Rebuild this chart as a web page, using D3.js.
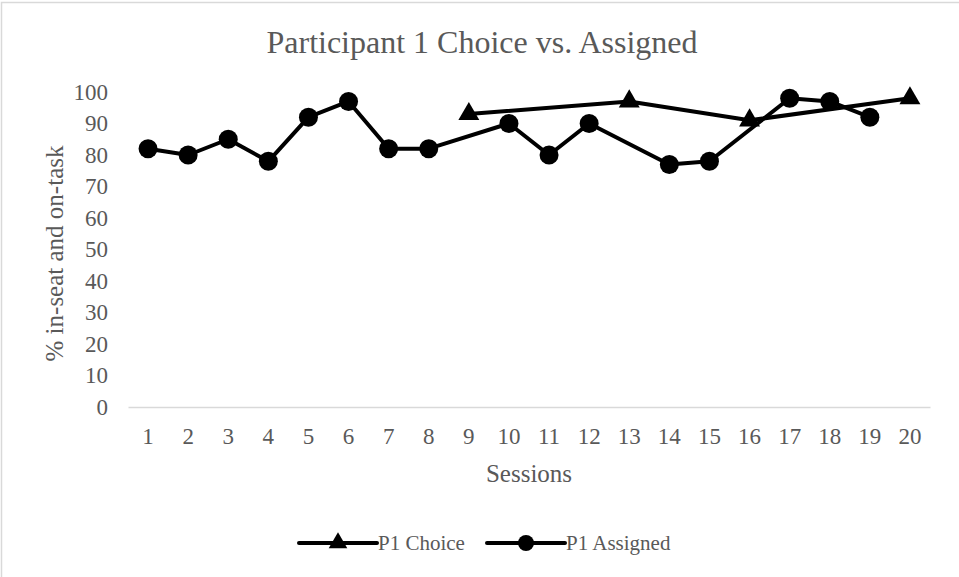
<!DOCTYPE html>
<html>
<head>
<meta charset="utf-8">
<script src="https://cdn.jsdelivr.net/npm/d3@7"></script>
<style>
  html, body { margin: 0; padding: 0; background: #fff; }
  svg { display: block; }
  text { font-family: "Liberation Serif", "Times New Roman", serif; fill: #595959; }
</style>
</head>
<body>
<svg id="chart" width="959" height="577"></svg>
<script>
// Sessions on the x axis
const sessions = d3.range(1, 21).map(String);
// Tick values on the y axis
const yTicks = [0, 10, 20, 30, 40, 50, 60, 70, 80, 90, 100];

// P1 Choice sessions and their % in-seat and on-task
const choiceSessions = ["9", "13", "16", "20"];
const choiceValues = [93, 97, 91, 98];

// P1 Assigned sessions and their values
const assignedSessions = ["1", "2", "3", "4", "5", "6", "7", "8", "10", "11", "12", "14", "15", "17", "18", "19"];
const assignedValues = [82, 80, 85, 78, 92, 97, 82, 82, 90, 80, 90, 77, 78, 98, 97, 92];

const W = 959, H = 577;
const margin = { left: 128, right: 29, top: 92, bottom: 170 };

const svg = d3.select("#chart");

// Outer chart frame
svg.append("rect")
  .attr("x", 1.5).attr("y", 2.5)
  .attr("width", W + 10).attr("height", H + 10)
  .attr("fill", "none").attr("stroke", "#d9d9d9").attr("stroke-width", 1.5);

const x = d3.scaleBand().domain(sessions).range([margin.left, W - margin.right]);
const y = d3.scaleLinear().domain([0, 100]).range([H - margin.bottom, margin.top]);

const xc = s => x(s) + x.bandwidth() / 2;

// Title
svg.append("text")
  .attr("x", 482).attr("y", 53)
  .attr("text-anchor", "middle")
  .style("font-size", "32px")
  .text("Participant 1 Choice vs. Assigned");

// X axis
const xAxis = svg.append("g")
  .attr("transform", `translate(0,${y(0)})`)
  .call(d3.axisBottom(x).tickSize(0).tickPadding(21));
xAxis.select(".domain").attr("stroke", "#d9d9d9").attr("stroke-width", 1.5);
xAxis.selectAll("text").style("font-size", "23px").attr("fill", "#595959");

// Y axis (labels only)
const yAxis = svg.append("g")
  .attr("transform", `translate(${margin.left},0)`)
  .call(d3.axisLeft(y).tickValues(yTicks).tickSize(0).tickPadding(20));
yAxis.select(".domain").remove();
yAxis.selectAll("text").style("font-size", "23px").attr("fill", "#595959");

// Axis titles
svg.append("text")
  .attr("x", xc("10") + x.bandwidth() / 2).attr("y", 482)
  .attr("text-anchor", "middle")
  .style("font-size", "25px")
  .text("Sessions");

svg.append("text")
  .attr("transform", `translate(63,${(y(0) + y(100)) / 2 + 4}) rotate(-90)`)
  .attr("text-anchor", "middle")
  .style("font-size", "25px")
  .text("% in-seat and on-task");

const line = d3.line().x(d => d[0]).y(d => d[1]);

const choicePts = choiceSessions.map((s, i) => [xc(s), y(choiceValues[i])]);
const assignedPts = assignedSessions.map((s, i) => [xc(s), y(assignedValues[i])]);

const tri = d3.symbol().type(d3.symbolTriangle).size(190);

// P1 Choice series
svg.append("path").attr("d", line(choicePts))
  .attr("fill", "none").attr("stroke", "#000").attr("stroke-width", 4).attr("stroke-linejoin", "round");
svg.selectAll(".tri").data(choicePts).join("path")
  .attr("class", "tri")
  .attr("d", tri)
  .attr("transform", d => `translate(${d[0]},${d[1]})`)
  .attr("fill", "#000");

// P1 Assigned series
svg.append("path").attr("d", line(assignedPts))
  .attr("fill", "none").attr("stroke", "#000").attr("stroke-width", 4).attr("stroke-linejoin", "round");
svg.selectAll(".dot").data(assignedPts).join("circle")
  .attr("class", "dot")
  .attr("cx", d => d[0]).attr("cy", d => d[1]).attr("r", 9.5)
  .attr("fill", "#000");

// Legend
const legend = svg.append("g");
const items = [
  { name: "P1 Choice", x0: 299, marker: "tri" },
  { name: "P1 Assigned", x0: 487, marker: "dot" }
];
items.forEach(it => {
  const g = legend.append("g").attr("transform", `translate(${it.x0},543)`);
  g.append("line").attr("x1", 0).attr("x2", 78).attr("y1", 0).attr("y2", 0)
    .attr("stroke", "#000").attr("stroke-width", 4).attr("stroke-linecap", "round");
  if (it.marker === "tri") {
    g.append("path").attr("d", d3.symbol().type(d3.symbolTriangle).size(150)).attr("transform", "translate(39,0)").attr("fill", "#000");
  } else {
    g.append("circle").attr("cx", 39).attr("cy", 0).attr("r", 8).attr("fill", "#000");
  }
  g.append("text").attr("x", 79).attr("y", 7).style("font-size", "21px").text(it.name);
});
</script>
</body>
</html>
